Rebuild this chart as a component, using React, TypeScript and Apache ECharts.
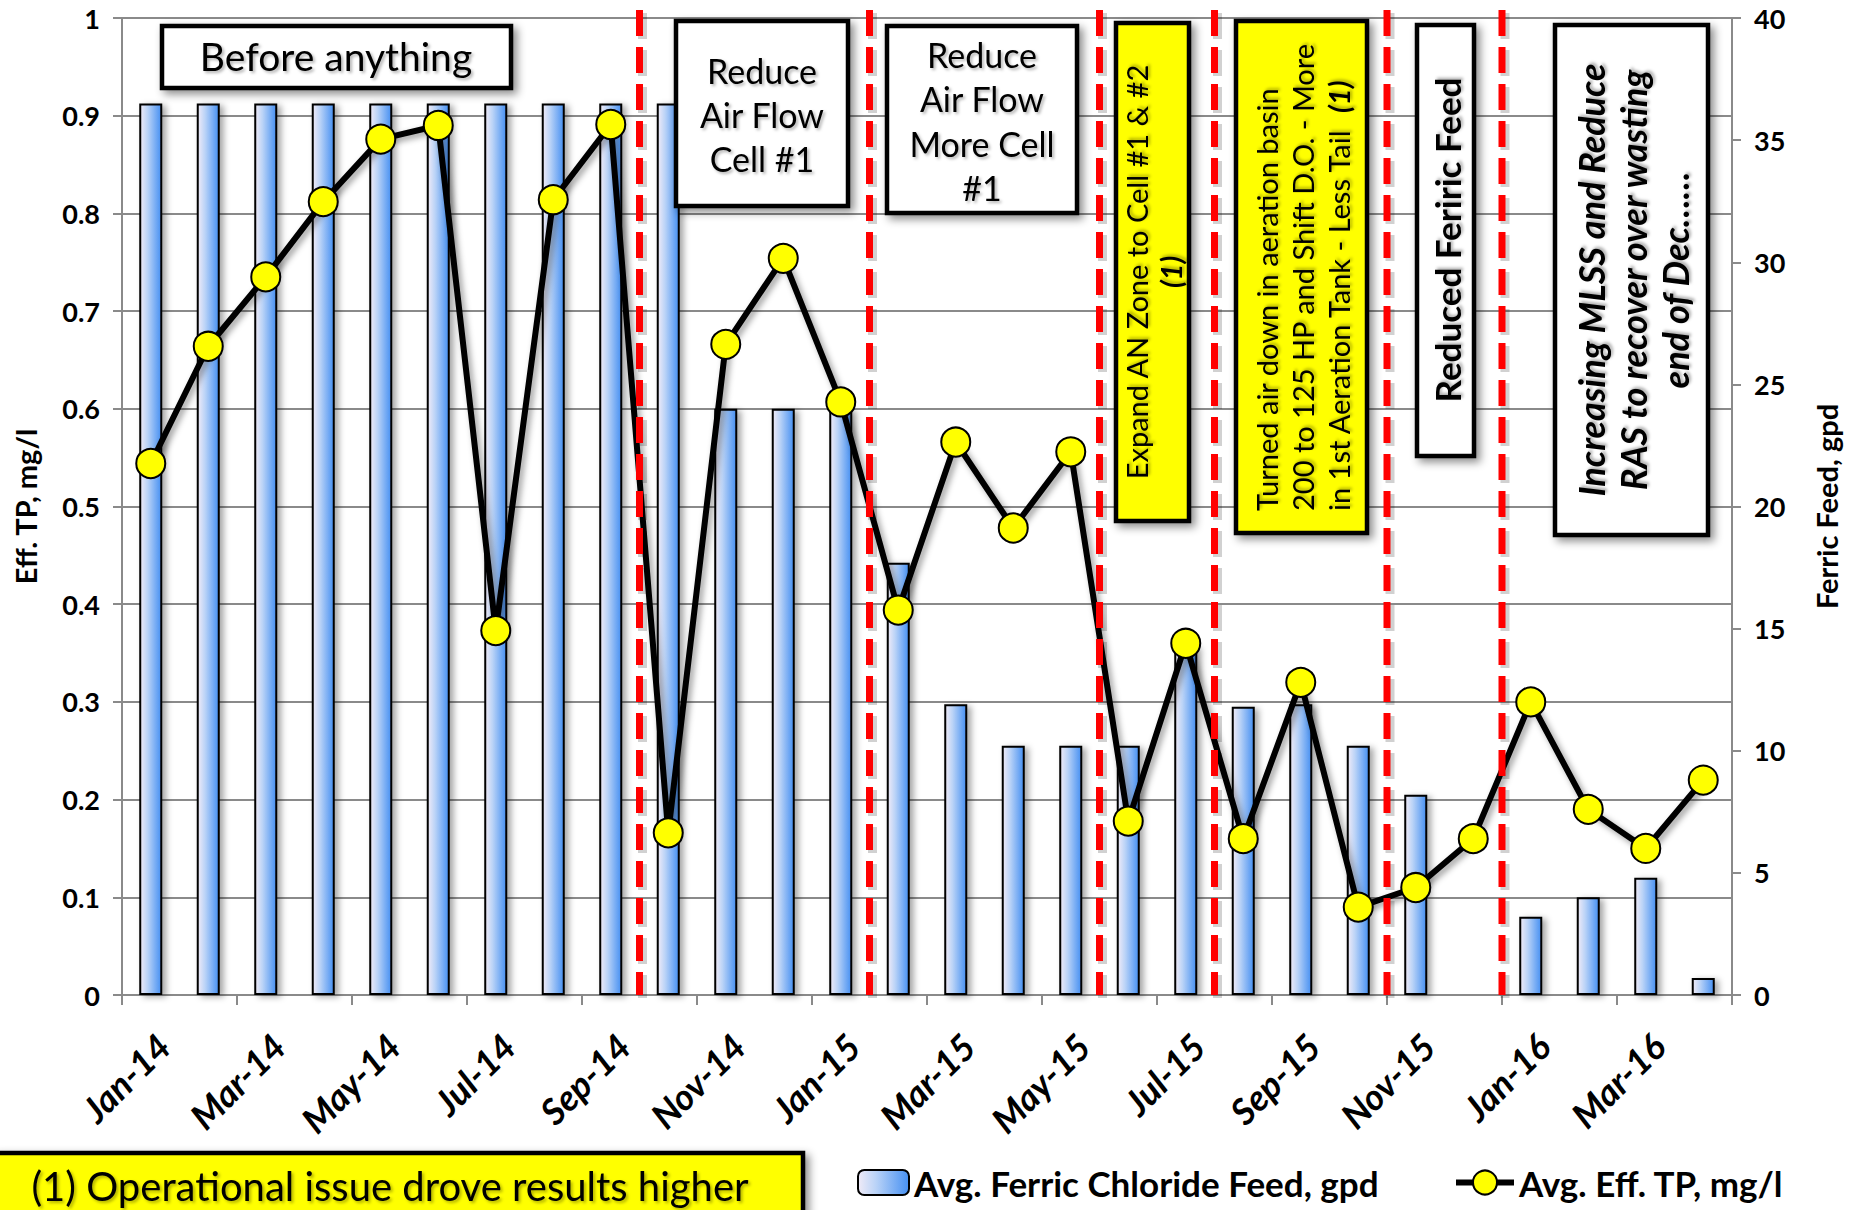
import React, { useEffect, useRef } from 'react';
import * as echarts from 'echarts';

// Monthly categories, Jan 2014 through Apr 2016
const months = [
  'Jan-14', 'Feb-14', 'Mar-14', 'Apr-14', 'May-14', 'Jun-14', 'Jul-14', 'Aug-14', 'Sep-14', 'Oct-14', 'Nov-14', 'Dec-14',
  'Jan-15', 'Feb-15', 'Mar-15', 'Apr-15', 'May-15', 'Jun-15', 'Jul-15', 'Aug-15', 'Sep-15', 'Oct-15', 'Nov-15', 'Dec-15',
  'Jan-16', 'Feb-16', 'Mar-16', 'Apr-16',
];

// Average ferric chloride feed, gpd (right axis); Dec-15 had no feed recorded
const ferricFeed: (number | null)[] = [
  36.5, 36.5, 36.5, 36.5, 36.5, 36.5, 36.5, 36.5, 36.5, 36.5, 24, 24,
  24, 17.7, 11.9, 10.2, 10.2, 10.2, 14.3, 11.8, 11.9, 10.2, 8.2, null,
  3.2, 4.0, 4.8, 0.7,
];

// Average effluent total phosphorus, mg/l (left axis)
const effTP = [
  0.544, 0.664, 0.735, 0.812, 0.876, 0.890, 0.373, 0.814, 0.891, 0.166, 0.666, 0.754,
  0.607, 0.394, 0.566, 0.478, 0.556, 0.178, 0.360, 0.160, 0.320, 0.090, 0.110, 0.160,
  0.300, 0.190, 0.150, 0.220,
];

// First month after each process change; the marker sits on that month's left edge
const changeMonths = ['Oct-14', 'Feb-15', 'Jun-15', 'Aug-15', 'Nov-15', 'Jan-16'];

const FEED_NAME = 'Avg. Ferric Chloride Feed, gpd';
const TP_NAME = 'Avg. Eff. TP, mg/l';

const FONT = 'Lato, "Open Sans", sans-serif';
const GRID_GRAY = '#8a8a8a';

const boxShadow = {
  shadowColor: 'rgba(0,0,0,0.45)',
  shadowBlur: 8,
  shadowOffsetX: 4,
  shadowOffsetY: 4,
};

const textShadow = {
  textShadowColor: 'rgba(0,0,0,0.3)',
  textShadowBlur: 3,
  textShadowOffsetX: 2,
  textShadowOffsetY: 2,
};

function box(x: number, y: number, w: number, h: number, fill: string) {
  return {
    type: 'rect',
    z: 100,
    shape: { x, y, width: w, height: h },
    style: { fill, stroke: '#000', lineWidth: 4.5, ...boxShadow },
  };
}

function note(
  text: string,
  x: number,
  y: number,
  o: { size: number; weight?: string; italic?: boolean; rotate?: boolean; align?: string; lineHeight?: number; rich?: any; shadow?: boolean }
) {
  return {
    type: 'text',
    z: 101,
    x,
    y,
    rotation: o.rotate ? Math.PI / 2 : 0,
    style: {
      text,
      fill: '#000',
      fontFamily: FONT,
      fontSize: o.size,
      fontWeight: o.weight || 'normal',
      fontStyle: o.italic ? 'italic' : 'normal',
      align: o.align || 'center',
      verticalAlign: 'middle',
      lineHeight: o.lineHeight,
      rich: o.rich,
      ...(o.shadow === false ? {} : textShadow),
    },
  };
}

export default function App() {
  const ref = useRef<HTMLDivElement>(null);

  useEffect(() => {
    if (!ref.current) return;
    const chart = echarts.init(ref.current, undefined, { renderer: 'svg' });

    const barFill = {
      type: 'linear',
      x: 0,
      y: 0,
      x2: 1,
      y2: 0,
      colorStops: [
        { offset: 0, color: '#F0EBF7' },
        { offset: 0.35, color: '#BAD3F7' },
        { offset: 1, color: '#4690F2' },
      ],
    };

    const richA = { fontFamily: FONT, fontSize: 29, lineHeight: 36, ...textShadow };
    const richB = { fontFamily: FONT, fontSize: 29, lineHeight: 36, fontWeight: 'bold', fontStyle: 'italic', ...textShadow };

    const legendText = { fontFamily: FONT, fontSize: 35, fontWeight: 'bold', color: '#000' };

    const option: any = {
      animation: false,
      backgroundColor: '#fff',
      textStyle: { fontFamily: FONT },
      grid: { left: 122, right: 119, top: 18, bottom: 215, containLabel: false },
      legend: [
        {
          data: [FEED_NAME],
          left: 852,
          top: 1160,
          itemWidth: 51,
          itemHeight: 25,
          itemGap: 0,
          selectedMode: false,
          textStyle: legendText,
        },
        {
          data: [TP_NAME],
          left: 1448,
          top: 1160,
          itemWidth: 58,
          itemHeight: 30,
          selectedMode: false,
          lineStyle: { width: 6, color: '#000' },
          textStyle: legendText,
        },
      ],
      xAxis: {
        type: 'category',
        data: months,
        boundaryGap: true,
        axisLine: { lineStyle: { color: GRID_GRAY, width: 2 } },
        axisTick: { show: true, interval: 1, length: 10, lineStyle: { color: GRID_GRAY, width: 2 } },
        axisLabel: {
          interval: 1,
          rotate: 45,
          margin: 32,
          verticalAlign: 'top',
          color: '#000',
          fontFamily: FONT,
          fontSize: 36,
          fontWeight: 'bold',
          fontStyle: 'italic',
        },
        splitLine: { show: false },
      },
      yAxis: [
        {
          type: 'value',
          min: 0,
          max: 1,
          interval: 0.1,
          name: 'Eff. TP, mg/l',
          nameLocation: 'middle',
          nameRotate: 90,
          nameGap: 82,
          nameTextStyle: { fontFamily: FONT, fontSize: 29, fontWeight: 'bold', color: '#000' },
          axisLine: { show: true, lineStyle: { color: GRID_GRAY, width: 2 } },
          axisTick: { show: true, length: 9, lineStyle: { color: GRID_GRAY, width: 2 } },
          axisLabel: { color: '#000', fontFamily: FONT, fontSize: 27, fontWeight: 'bold', margin: 22 },
          splitLine: { show: true, lineStyle: { color: GRID_GRAY, width: 2 } },
        },
        {
          type: 'value',
          min: 0,
          max: 40,
          interval: 5,
          position: 'right',
          name: 'Ferric Feed, gpd',
          nameLocation: 'middle',
          nameRotate: 90,
          nameGap: 80,
          nameTextStyle: { fontFamily: FONT, fontSize: 29, fontWeight: 'bold', color: '#000' },
          axisLine: { show: true, lineStyle: { color: GRID_GRAY, width: 2 } },
          axisTick: { show: true, length: 9, lineStyle: { color: GRID_GRAY, width: 2 } },
          axisLabel: { color: '#000', fontFamily: FONT, fontSize: 27, fontWeight: 'bold', margin: 22 },
          splitLine: { show: false },
        },
      ],
      series: [
        {
          name: FEED_NAME,
          type: 'bar',
          yAxisIndex: 1,
          data: ferricFeed,
          barWidth: 23,
          z: 2,
          itemStyle: {
            color: barFill,
            borderColor: '#000',
            borderWidth: 2,
            shadowColor: 'rgba(0,0,0,0.35)',
            shadowBlur: 6,
            shadowOffsetX: 4,
            shadowOffsetY: 2,
          },
        },
        {
          name: TP_NAME,
          type: 'line',
          yAxisIndex: 0,
          data: effTP,
          symbol: 'circle',
          symbolSize: 29,
          z: 3,
          lineStyle: {
            color: '#000',
            width: 6,
            shadowColor: 'rgba(0,0,0,0.4)',
            shadowBlur: 6,
            shadowOffsetX: 3,
            shadowOffsetY: 3,
          },
          itemStyle: { color: '#FFFF00', borderColor: '#000', borderWidth: 2 },
        },
        {
          // red dashed markers on the left edge of each change month, running a little above the plot top;
          // the soft shadow is a separate offset dashed stroke
          name: 'changes',
          type: 'custom',
          yAxisIndex: 0,
          data: changeMonths.map((m) => [m, 0]),
          encode: { x: 0, y: 1 },
          clip: false,
          silent: true,
          z: 4,
          renderItem: (params: any, api: any) => {
            const base = api.coord([api.value(0), 0]);
            const top = api.coord([api.value(0), 1]);
            const band = api.size([1, 0])[0];
            const x = base[0] - band / 2;
            const y1 = top[1] - 8;
            const y2 = base[1];
            return {
              type: 'group',
              children: [
                {
                  type: 'line',
                  shape: { x1: x + 3, y1: y1 + 3, x2: x + 3, y2: y2 + 3 },
                  style: { stroke: 'rgba(0,0,0,0.18)', lineWidth: 9, lineDash: [26, 11] },
                },
                {
                  type: 'line',
                  shape: { x1: x, y1, x2: x, y2 },
                  style: { stroke: '#FF0000', lineWidth: 7, lineDash: [26, 11] },
                },
              ],
            };
          },
        },
      ],
      graphic: [
        // Before anything
        box(162, 26, 349, 62, '#fff'),
        note('Before anything', 336, 56, { size: 39 }),
        // Reduce air flow cell #1
        box(676, 21, 172, 185, '#fff'),
        note('Reduce\nAir Flow\nCell #1', 762, 114, { size: 34, lineHeight: 44 }),
        // Reduce air flow more cell #1
        box(887, 26, 190, 187, '#fff'),
        note('Reduce\nAir Flow\nMore Cell\n#1', 982, 121, { size: 34, lineHeight: 44.5 }),
        // Expand AN zone
        box(1116, 23, 73, 498, '#FFFF00'),
        note('{a|Expand AN Zone to Cell #1 & #2}\n{b|(1)}', 1153, 272, {
          size: 29,
          rotate: true,
          lineHeight: 34,
          shadow: false,
          rich: { a: { ...richA, lineHeight: 34 }, b: { ...richB, lineHeight: 34 } },
        }),
        // Turned air down
        box(1236, 21, 131, 512, '#FFFF00'),
        note(
          '{a|Turned air down in aeration basin}\n{a|200 to 125 HP and Shift D.O. - More}\n{a|in 1st Aeration Tank - Less Tail  }{b|(1)}',
          1302,
          511,
          { size: 29, rotate: true, align: 'left', lineHeight: 36, shadow: false, rich: { a: richA, b: richB } }
        ),
        // Reduced ferric feed
        box(1417, 25, 57, 431, '#fff'),
        note('Reduced Feriric Feed', 1447, 240, { size: 35, weight: 'bold', rotate: true }),
        // Increasing MLSS
        box(1555, 25, 153, 510, '#fff'),
        note('Increasing MLSS and Reduce\nRAS to recover over wasting\nend of Dec……', 1633, 280, {
          size: 36,
          weight: 'bold',
          italic: true,
          rotate: true,
          lineHeight: 42,
        }),
        // Footnote
        box(-6, 1153, 809, 80, '#FFFF00'),
        note('(1) Operational issue drove results higher', 390, 1186, { size: 40 }),
      ],
    };

    chart.setOption(option);
    return () => chart.dispose();
  }, []);

  return (
    <div
      ref={ref}
      style={{ position: 'absolute', left: 0, top: 0, width: 1851, height: 1210, background: '#fff' }}
    />
  );
}
